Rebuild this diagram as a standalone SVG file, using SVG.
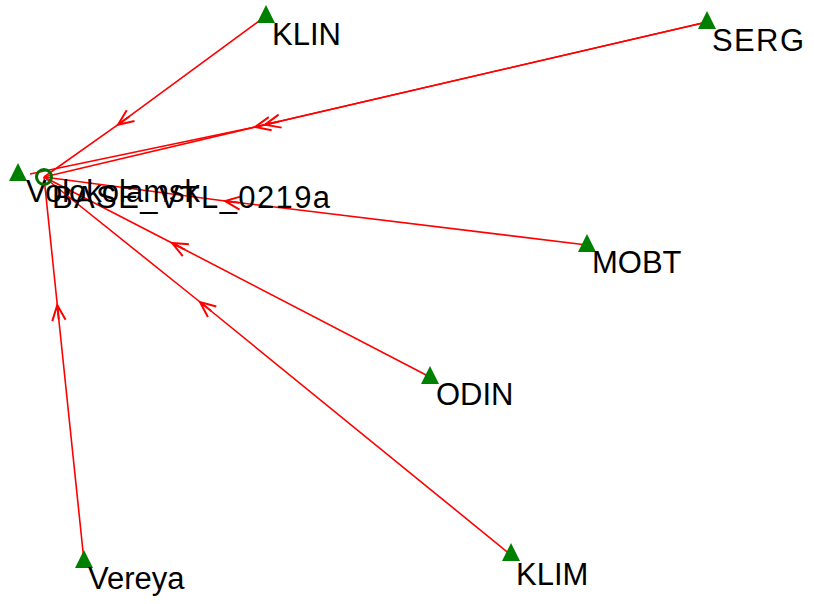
<svg xmlns="http://www.w3.org/2000/svg" width="814" height="604" viewBox="0 0 814 604">
<style>
.edge{fill:none;stroke:#ff0000;stroke-width:1.6;marker-mid:url(#arr)}
.st{fill:#008000}
.lbl{font-family:"Liberation Sans",Arial,sans-serif;font-size:31px;fill:#000}
</style>
<defs>
<marker id="arr" markerUnits="userSpaceOnUse" markerWidth="20" markerHeight="20" refX="0" refY="0" viewBox="-16 -8 18 16" orient="auto" overflow="visible">
<path d="M-14,-6 L0,0 L-14,6 M-13,0 L0,0" fill="none" stroke="#ff0000" stroke-width="1.8"/>
</marker>
</defs>
<rect width="814" height="604" fill="#fff"/>
<g id="connectors">
<polyline class="edge" points="266,16 118,124.7 44,177"/>
<polyline class="edge" points="707,22 265,124.7 44,177"/>
<polyline class="edge" points="707,22 255,127 30,174"/>
<polyline class="edge" points="587,245 225,201 44,177"/>
<polyline class="edge" points="430,377 172,243 44,177"/>
<polyline class="edge" points="511,555 200,302 44,177"/>
<polyline class="edge" points="84,561 57.3,305 44,177"/>
</g>
<g id="KLIN"><polygon class="st" points="266,5 257,23 275,23"/><text class="lbl" x="272" y="45">KLIN</text></g>
<g id="SERG"><polygon class="st" points="707,11 698,29 716,29"/><text class="lbl" x="712" y="51" textLength="92">SERG</text></g>
<g id="MOBT"><polygon class="st" points="587,234 578,252 596,252"/><text class="lbl" x="592" y="273">MOBT</text></g>
<g id="ODIN"><polygon class="st" points="430,366 421,384 439,384"/><text class="lbl" x="436" y="405">ODIN</text></g>
<g id="KLIM"><polygon class="st" points="511,543 502,561 520,561"/><text class="lbl" x="516" y="585">KLIM</text></g>
<g id="Vereya"><polygon class="st" points="84,550 75,568 93,568"/><text class="lbl" x="88" y="589">Vereya</text></g>
<g id="Volokolamsk"><polygon class="st" points="18,163 9,181 27,181"/><text class="lbl" x="26" y="202">Volokolamsk</text></g>
<g id="BASE_VTL_0219a"><circle cx="44" cy="177" r="7.5" fill="none" stroke="#007000" stroke-width="3"/><text class="lbl" x="52" y="208" textLength="278">BASE_VTL_0219a</text></g>
</svg>
